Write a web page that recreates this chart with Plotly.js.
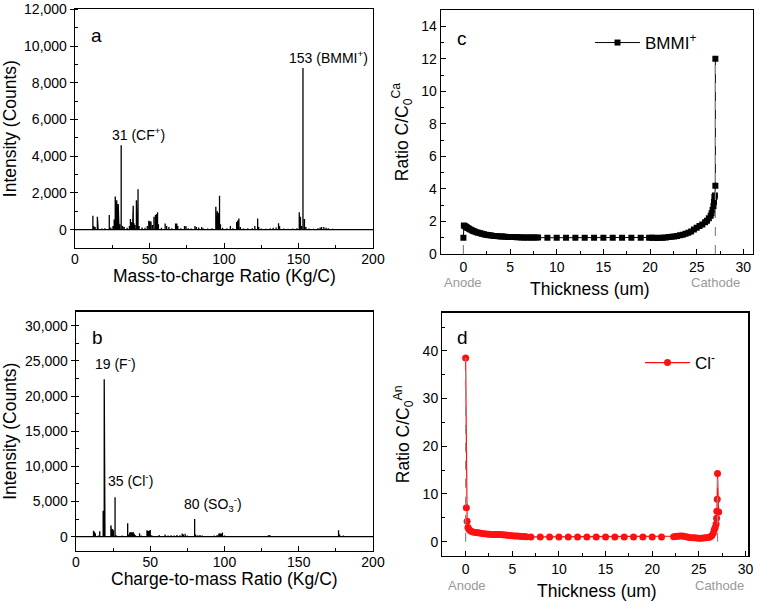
<!DOCTYPE html>
<html>
<head>
<meta charset="utf-8">
<script src="https://cdn.plot.ly/plotly-3.0.1.min.js"></script>
<style>html,body{margin:0;padding:0;background:#fff;}#chart{width:759px;height:605px;}</style>
</head>
<body>
<div id="chart"></div>
<script>
// ---------- Panel a: positive-ion spectrum (mass-to-charge, intensity) ----------
const massA = [0,5,8,12,12.6,13.5,15,15.5,18,20,23,24,25.5,26.3,27,27.5,28,28.5,29,29.5,30,31,32,33,35,36.5,37.2,38,38.6,39.1,39.6,40.2,41.2,41.7,42.3,43,45,47,48.5,49.5,50.2,51,52,53,54,54.7,55.4,56,58,60.5,61.5,63,65,67.5,68.3,69,71,73.5,74.5,76,78,80.5,81.5,83,85,86,89,92,94.5,95,95.6,96.2,97,97.6,99,102,104.3,106,108.5,109.2,110,111,113,116,119,120.7,122.6,123.3,125,128,131,133,135,136.6,137.3,140,143,146,149,150.5,151.3,152,153,154,155,157,160,163,164.5,165.5,167,168.5,170,173,178,183,190,195,200];
const intensA = [0,30,40,750,200,150,700,120,60,80,800,120,200,550,1800,1200,1600,1500,1400,1350,300,4600,200,150,100,200,580,400,300,1300,350,250,1600,1550,2200,200,120,100,200,480,460,450,250,700,800,850,950,300,100,330,200,150,80,330,340,200,80,200,180,80,60,200,150,120,150,80,60,80,1250,1150,1000,900,1850,300,100,80,200,80,420,500,600,150,60,70,80,200,600,150,60,50,80,100,120,350,200,60,50,60,80,950,700,200,8800,580,150,60,50,80,120,150,140,100,80,50,40,40,30,30,0];

// ---------- Panel b: negative-ion spectrum ----------
const massB = [0,5,8,11.8,12.4,13,15,16,17,18.3,19,19.5,21,23.5,24,24.6,25.2,26.3,27,29,31,33,34.8,35.5,36.2,37,37.8,38.5,39.2,40,42.8,44,46,47.8,48.5,49.2,50,51,53,56,58,60,62,64,66,68,70,71.5,72.3,73.5,75,77,79.9,80.6,82,83.5,85,87,90,93,95,96.2,97,97.8,98.6,100,103,107,110,114,117,120,124,129.5,130.5,132,136,140,145,150,155,160,165,170,176.8,177.5,180,181,186,192,197,200];
const intensB = [0,30,40,850,700,500,150,750,100,3700,22400,400,100,1600,1400,1100,900,5600,200,100,150,100,1900,300,600,650,600,650,400,200,500,150,100,900,800,850,950,200,100,250,100,300,150,200,150,250,200,450,300,400,150,100,2500,300,200,250,150,100,100,150,250,450,500,400,600,150,100,80,100,80,100,80,60,200,250,100,60,80,60,70,60,60,50,60,900,300,150,100,50,40,40,0];

// ---------- Panel c: BMMI+ concentration ratio vs thickness ----------
const thickC = [0,0.05,0.15,0.25,0.35,0.45,0.6,0.75,0.9,1.05,1.2,1.4,1.6,1.8,2.0,2.2,2.4,2.6,2.8,3.0,3.25,3.5,3.75,4.0,4.25,4.5,4.75,5.0,5.25,5.5,5.75,6.0,6.25,6.5,6.75,7.0,7.25,7.5,7.75,8.0,9,10,11,12,13,14,15,16,17,18,19,19.9,20.2,20.5,20.8,21.1,21.4,21.7,22.0,22.3,22.6,22.9,23.2,23.5,23.8,24.1,24.4,24.7,25.0,25.3,25.6,25.9,26.1,26.3,26.5,26.6,26.7,26.8,26.85,26.9,26.95,27.0,27.0];
const ratioC = [1.0,1.75,1.72,1.68,1.64,1.6,1.55,1.5,1.46,1.42,1.38,1.34,1.3,1.27,1.24,1.21,1.19,1.17,1.15,1.13,1.11,1.10,1.09,1.08,1.07,1.06,1.05,1.05,1.04,1.04,1.03,1.03,1.02,1.02,1.02,1.01,1.01,1.01,1.01,1.01,1.0,1.0,1.0,1.0,1.0,1.0,1.0,1.0,1.0,1.0,1.0,1.0,1.0,1.0,0.99,1.0,1.0,1.02,1.04,1.06,1.08,1.11,1.15,1.19,1.24,1.3,1.38,1.5,1.62,1.72,1.82,1.95,2.05,2.2,2.35,2.5,2.7,2.95,3.2,3.5,3.6,4.2,12.0];

// ---------- Panel d: Cl- concentration ratio vs thickness ----------
const thickD = [0,0.08,0.16,0.25,0.35,0.5,0.7,0.9,1.1,1.3,1.5,1.75,2.0,2.25,2.5,2.75,3.0,3.25,3.5,3.75,4.0,4.25,4.5,4.75,5.0,5.25,5.5,5.75,6.0,6.25,6.5,7,8,9,10,11,12,13,14,15,16,17,18,19,20,21,22.3,22.5,22.75,23.0,23.25,23.5,23.75,24.0,24.25,24.5,24.75,25.0,25.25,25.5,25.75,26.0,26.2,26.4,26.55,26.65,26.75,26.85,26.9,26.93,26.97,27.0,27.12];
const ratioD = [38.5,7.1,4.3,3.0,2.6,2.3,2.1,2.0,1.9,1.85,1.8,1.7,1.65,1.6,1.55,1.5,1.5,1.5,1.5,1.5,1.45,1.4,1.35,1.3,1.25,1.2,1.2,1.15,1.1,1.1,1.05,1.0,1.0,1.0,1.0,1.0,1.0,1.0,1.0,1.0,1.0,1.0,1.0,1.0,1.0,1.0,1.05,1.1,1.15,1.2,1.2,1.1,1.0,0.9,0.85,0.8,0.75,0.72,0.72,0.75,0.8,0.9,1.0,1.3,1.8,2.5,3.0,3.7,4.9,6.4,8.9,14.3,6.2];

const electrodePos = [0, 27];
const electrodeNames = ['Anode', 'Cathode'];

// Stick spectrum builder: each peak is a vertical stick from the baseline
function sticks(m, h) {
  const xs = [], ys = [];
  for (let i = 0; i < m.length; i++) { xs.push(m[i], m[i], m[i]); ys.push(0, h[i], 0); }
  return {x: xs, y: ys};
}
const sa = sticks(massA, intensA), sb = sticks(massB, intensB);

const FONT = 'Arial, "Liberation Sans", sans-serif';
const traces = [
  {x: sa.x, y: sa.y, xaxis: 'x', yaxis: 'y', mode: 'lines', line: {color: '#000', width: 1.3}, showlegend: false, hoverinfo: 'skip'},
  {x: sb.x, y: sb.y, xaxis: 'x2', yaxis: 'y2', mode: 'lines', line: {color: '#000', width: 1.3}, showlegend: false, hoverinfo: 'skip'},
  {x: thickC, y: ratioC, xaxis: 'x3', yaxis: 'y3', mode: 'lines+markers', name: 'BMMI<sup>+</sup>', legend: 'legend',
   line: {color: '#000', width: 1}, marker: {symbol: 'square', size: 6, color: '#000'}},
  {x: thickD, y: ratioD, xaxis: 'x4', yaxis: 'y4', mode: 'lines+markers', name: 'Cl<sup>-</sup>', legend: 'legend2',
   line: {color: '#ff1010', width: 1.2}, marker: {symbol: 'circle', size: 7, color: '#ff1010'}}
];

function ax(extra) {
  return Object.assign({
    showline: true, linecolor: '#000', linewidth: 1.3, mirror: true, showgrid: false, zeroline: false,
    ticks: 'inside', ticklen: 5, tickcolor: '#000', tickwidth: 1,
    tickfont: {family: FONT, size: 14, color: '#000'}, automargin: false, fixedrange: true
  }, extra);
}
function ttl(text, standoff) { return {text: text, font: {family: FONT, size: 17.5, color: '#000'}, standoff: standoff}; }

// electrode guide lines (dashed gray) from the data maxima at each electrode
function guides(xs, ys, xr, yr) {
  return electrodePos.map(p => {
    let mx = 0;
    xs.forEach((v, i) => { if (Math.abs(v - p) < 0.01 && ys[i] > mx) mx = ys[i]; });
    return {type: 'line', xref: xr, yref: yr, x0: p, x1: p, y0: 0, y1: mx, line: {color: '#8a8a8a', width: 1.2, dash: 'dash'}, layer: 'above'};
  });
}

const annFont = {family: FONT, size: 14, color: '#000'};
const letterFont = {family: FONT, size: 19, color: '#000'};
const titleFont = {family: FONT, size: 17.5, color: '#000'};
function xTitle(text, cx, cy) {
  return {xref: 'paper', yref: 'paper', x: cx / 759, y: 1 - cy / 605, xanchor: 'center', yanchor: 'middle', text: text, showarrow: false, font: titleFont};
}
const annotations = [
  {xref: 'x', yref: 'y', x: 14.6, y: 10600, text: 'a', showarrow: false, font: letterFont},
  {xref: 'x', yref: 'y', x: 42.3, y: 5200, text: '31 (CF<sup>+</sup>)', showarrow: false, font: annFont},
  {xref: 'x', yref: 'y', x: 170, y: 9420, text: '153 (BMMI<sup>+</sup>)', showarrow: false, font: annFont},
  {xref: 'x2', yref: 'y2', x: 14.6, y: 28400, text: 'b', showarrow: false, font: letterFont},
  {xref: 'x2', yref: 'y2', x: 26.3, y: 24650, text: '19 (F<sup>-</sup>)', showarrow: false, font: annFont},
  {xref: 'x2', yref: 'y2', x: 36.4, y: 8060, text: '35 (Cl<sup>-</sup>)', showarrow: false, font: annFont},
  {xref: 'x2', yref: 'y2', x: 92.5, y: 4650, text: '80 (SO<sub>3</sub><sup>-</sup>)', showarrow: false, font: annFont},
  {xref: 'x3', yref: 'y3', x: -0.2, y: 13.25, text: 'c', showarrow: false, font: letterFont},
  {xref: 'x4', yref: 'y4', x: -0.3, y: 42.7, text: 'd', showarrow: false, font: letterFont},
  xTitle('Mass-to-charge Ratio (Kg/C)', 224, 275.5),
  xTitle('Charge-to-mass Ratio (Kg/C)', 224, 578.5),
  xTitle('Thickness (um)', 590, 289),
  xTitle('Thickness (um)', 597, 591)
];
electrodeNames.forEach((n, i) => {
  annotations.push({xref: 'x3', yref: 'paper', x: electrodePos[i], y: 1 - 282/605, yanchor: 'middle', text: n, showarrow: false, font: {family: FONT, size: 13, color: '#999'}});
  annotations.push({xref: 'x4', yref: 'paper', x: electrodePos[i] + 0.2, y: 1 - 585/605, yanchor: 'middle', text: n, showarrow: false, font: {family: FONT, size: 13, color: '#999'}});
});

const layout = {
  width: 759, height: 605, margin: {l: 0, r: 0, t: 0, b: 0},
  paper_bgcolor: '#fff', plot_bgcolor: 'rgba(0,0,0,0)',
  font: {family: FONT, color: '#000'},
  xaxis: ax({domain: [75/759, 373/759], range: [0, 200], anchor: 'y', dtick: 50, ticklabelstandoff: -2, minor: {dtick: 25, ticks: 'inside', ticklen: 3, tickcolor: '#000'}}),
  yaxis: ax({domain: [1 - 248/605, 1 - 9.3/605], range: [-1000, 12000], anchor: 'x', dtick: 2000, tick0: 0, tickformat: ',d', ticks: 'outside', ticklen: 4,
    minor: {dtick: 1000, ticks: 'inside', ticklen: 3, tickcolor: '#000'}, title: ttl('Intensity (Counts)', 5)}),
  xaxis2: ax({domain: [76/759, 373/759], range: [0, 200], anchor: 'y2', dtick: 50, ticklabelstandoff: -2, minor: {dtick: 25, ticks: 'inside', ticklen: 3, tickcolor: '#000'}}),
  yaxis2: ax({domain: [1 - 550.7/605, 1 - 311.7/605], range: [-2000, 32000], anchor: 'x2', dtick: 5000, tick0: 0, tickformat: ',d', ticks: 'outside', ticklen: 4,
    minor: {dtick: 2500, ticks: 'inside', ticklen: 3, tickcolor: '#000'}, title: ttl('Intensity (Counts)', 5)}),
  xaxis3: ax({domain: [441/759, 752.7/759], range: [-2.4, 31], anchor: 'y3', dtick: 5, tick0: 0, minor: {dtick: 2.5, ticks: 'inside', ticklen: 3, tickcolor: '#000'}}),
  yaxis3: ax({domain: [1 - 254/605, 1 - 10/605], range: [0, 15], anchor: 'x3', dtick: 2, tick0: 0,
    minor: {dtick: 1, ticks: 'inside', ticklen: 3, tickcolor: '#000'}, title: ttl('Ratio C/C<sub>0</sub><sup>Ca</sup>', 8)}),
  xaxis4: ax({domain: [442.3/759, 748.3/759], range: [-2.5, 30.3], anchor: 'y4', dtick: 5, tick0: 0, minor: {dtick: 2.5, ticks: 'inside', ticklen: 3, tickcolor: '#000'}}),
  yaxis4: ax({domain: [1 - 556/605, 1 - 312.7/605], range: [-3, 48], anchor: 'x4', dtick: 10, tick0: 0,
    minor: {dtick: 5, ticks: 'inside', ticklen: 3, tickcolor: '#000'}, title: ttl('Ratio C/C<sub>0</sub><sup>An</sup>', 8)}),
  legend: {x: 590/759, y: 1 - 25/605, xanchor: 'left', yanchor: 'top', itemwidth: 45, bgcolor: 'rgba(0,0,0,0)', borderwidth: 0, font: {family: FONT, size: 17, color: '#000'}},
  legend2: {x: 640/759, y: 1 - 345/605, xanchor: 'left', yanchor: 'top', itemwidth: 45, bgcolor: 'rgba(0,0,0,0)', borderwidth: 0, font: {family: FONT, size: 17, color: '#000'}},
  shapes: guides(thickC, ratioC, 'x3', 'y3').concat(guides(thickD, ratioD, 'x4', 'y4')),
  annotations: annotations
};

Plotly.newPlot('chart', traces, layout, {displayModeBar: false, staticPlot: true});
</script>
</body>
</html>
